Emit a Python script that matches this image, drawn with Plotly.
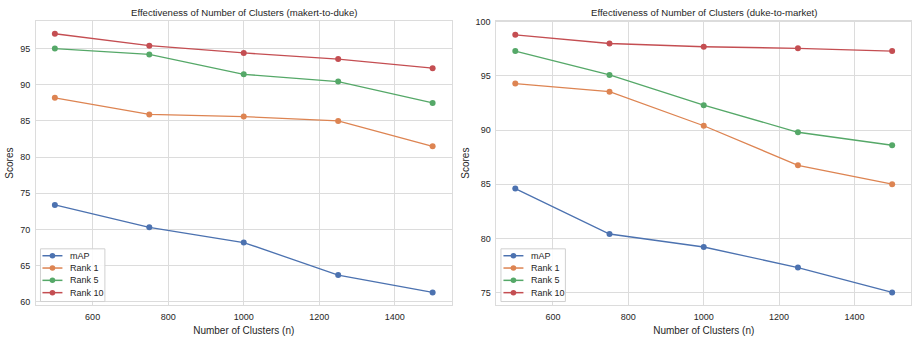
import plotly.graph_objects as go

clusters = [500, 750, 1000, 1250, 1500]

# makert-to-duke
m2d_map = [73.4, 70.3, 68.2, 63.7, 61.3]
m2d_rank1 = [88.2, 85.9, 85.6, 85.0, 81.5]
m2d_rank5 = [95.0, 94.2, 91.45, 90.45, 87.5]
m2d_rank10 = [97.05, 95.4, 94.4, 93.55, 92.3]

# duke-to-market
d2m_map = [84.6, 80.4, 79.2, 77.3, 75.0]
d2m_rank1 = [94.3, 93.55, 90.4, 86.75, 85.0]
d2m_rank5 = [97.3, 95.1, 92.3, 89.8, 88.6]
d2m_rank10 = [98.8, 98.0, 97.7, 97.55, 97.3]

series_names = ["mAP", "Rank 1", "Rank 5", "Rank 10"]
colors = ["#4c72b0", "#dd8452", "#55a868", "#c44e52"]

titles = ["Effectiveness of Number of Clusters (makert-to-duke)",
          "Effectiveness of Number of Clusters (duke-to-market)"]

W, H = 912, 338
FONT = "Liberation Sans, Arial, sans-serif"
TXT = "#262626"
GRID = "#dcdcdc"


def px(x):
    return x / W


def py(y):
    return 1 - y / H


fig = go.Figure()

panels = [
    ([m2d_map, m2d_rank1, m2d_rank5, m2d_rank10], "x", "y"),
    ([d2m_map, d2m_rank1, d2m_rank5, d2m_rank10], "x2", "y2"),
]
for pi, (vals, xa, ya) in enumerate(panels):
    for name, v, c in zip(series_names, vals, colors):
        fig.add_trace(go.Scatter(
            x=clusters, y=v, name=name, mode="lines+markers",
            line=dict(color=c, width=1.3),
            marker=dict(color=c, size=6),
            xaxis=xa, yaxis=ya, showlegend=False,
        ))

axis_common = dict(
    showgrid=True, gridcolor=GRID, gridwidth=1,
    showline=True, linecolor=GRID, linewidth=1, mirror=True,
    zeroline=False, ticks="",
    tickfont=dict(family=FONT, size=9, color=TXT),
    title_font=dict(family=FONT, size=10, color=TXT),
)

dom1 = [px(36), px(452)]
dom2 = [px(497), 1.0]
ydom = [py(306), py(17)]

shapes = []
annotations = []

# custom legends (box, line+marker samples, labels)
legend_specs = [
    dict(box=(40.5, 248.5, 105, 302), line=(42.5, 62.5), mk=52.5, tx=68,
         rows=[255.5, 268, 280.5, 293]),
    dict(box=(501.5, 248.5, 566, 302), line=(504, 524), mk=514, tx=529.5,
         rows=[255.5, 268, 280.5, 293]),
]
for spec in legend_specs:
    x0, y0, x1, y1 = spec["box"]
    shapes.append(dict(type="rect", xref="paper", yref="paper",
                       x0=px(x0), x1=px(x1), y0=py(y1), y1=py(y0),
                       line=dict(color="#d0d0d0", width=1),
                       fillcolor="rgba(255,255,255,0.85)", layer="above"))
    for name, c, ry in zip(series_names, colors, spec["rows"]):
        lx0, lx1 = spec["line"]
        shapes.append(dict(type="line", xref="paper", yref="paper",
                           x0=px(lx0), x1=px(lx1), y0=py(ry), y1=py(ry),
                           line=dict(color=c, width=1.5), layer="above"))
        r = 2.8
        shapes.append(dict(type="circle", xref="paper", yref="paper",
                           x0=px(spec["mk"] - r), x1=px(spec["mk"] + r),
                           y0=py(ry + r), y1=py(ry - r),
                           fillcolor=c, line=dict(color=c, width=0),
                           layer="above"))
        annotations.append(dict(text=name, x=px(spec["tx"]), y=py(ry),
                                xref="paper", yref="paper", showarrow=False,
                                xanchor="left", yanchor="middle",
                                font=dict(family=FONT, size=9, color=TXT)))

annotations += [
    dict(text=titles[0], x=(dom1[0] + dom1[1]) / 2, y=py(9),
         xref="paper", yref="paper", showarrow=False,
         xanchor="center", yanchor="middle",
         font=dict(family=FONT, size=9.6, color=TXT)),
    dict(text=titles[1], x=(dom2[0] + px(912)) / 2, y=py(9),
         xref="paper", yref="paper", showarrow=False,
         xanchor="center", yanchor="middle",
         font=dict(family=FONT, size=9.6, color=TXT)),
]

fig.update_layout(
    width=W, height=H,
    margin=dict(l=0, r=0, t=0, b=0),
    paper_bgcolor="white", plot_bgcolor="white",
    font=dict(family=FONT, size=9, color=TXT),
    showlegend=False,
    xaxis=dict(domain=dom1, range=[450, 1550],
               tickvals=[600, 800, 1000, 1200, 1400],
               ticklabelstandoff=3,
               title=dict(text="Number of Clusters (n)", standoff=5),
               anchor="y", **axis_common),
    yaxis=dict(domain=ydom, range=[59.5, 98.85],
               tickvals=[60, 65, 70, 75, 80, 85, 90, 95],
               ticklabelstandoff=3,
               title=dict(text="Scores", standoff=4),
               anchor="x", **axis_common),
    xaxis2=dict(domain=dom2, range=[450, 1550],
                tickvals=[600, 800, 1000, 1200, 1400],
                ticklabelstandoff=3,
                title=dict(text="Number of Clusters (n)", standoff=5),
                anchor="y2", **axis_common),
    yaxis2=dict(domain=ydom, range=[73.8, 100.1],
                tickvals=[75, 80, 85, 90, 95, 100],
                ticklabelstandoff=3,
                title=dict(text="Scores", standoff=4),
                anchor="x2", **axis_common),
    shapes=shapes,
    annotations=annotations,
)

fig.write_html("out.html",
               config={"displayModeBar": False},
               post_script="document.body.style.margin='0';"
                           "document.body.style.overflow='hidden';")
